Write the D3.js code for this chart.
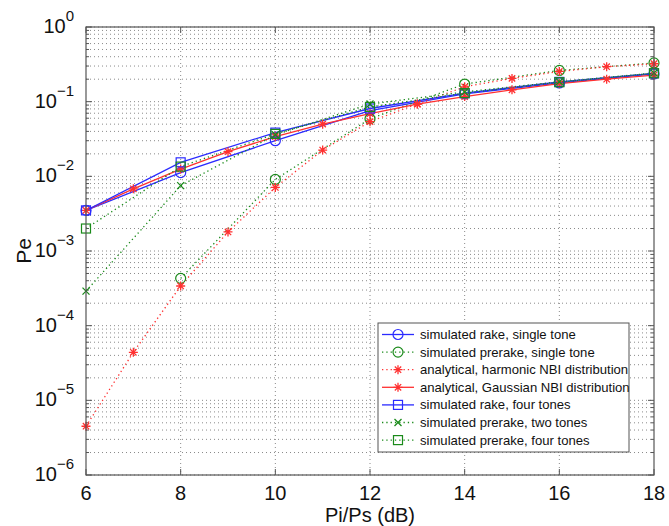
<!DOCTYPE html>
<html><head><meta charset="utf-8">
<script src="https://cdn.jsdelivr.net/npm/d3@7"></script>
<style>body{margin:0;background:#fff;} svg{display:block;font-family:"Liberation Sans",Arial,sans-serif;}</style>
</head><body>
<svg id="c" width="669" height="526"></svg>
<script>
const xSim = [6, 8, 10, 12, 14, 16, 18];
const xPreSingle = [8, 10, 12, 14, 16, 18];
const xAna = [6, 7, 8, 9, 10, 11, 12, 13, 14, 15, 16, 17, 18];
const rakeSingle = [3.5e-3, 1.12e-2, 3.0e-2, 7.6e-2, 1.27e-1, 1.78e-1, 2.35e-1];
const prerakeSingle = [4.3e-4, 9.1e-3, 5.9e-2, 1.72e-1, 2.62e-1, 3.3e-1];
const harmonic = [4.5e-6, 4.4e-5, 3.4e-4, 1.8e-3, 7.1e-3, 2.25e-2, 5.4e-2, 9.3e-2, 1.58e-1, 2.05e-1, 2.54e-1, 2.94e-1, 3.22e-1];
const gaussian = [3.5e-3, 6.8e-3, 1.25e-2, 2.14e-2, 3.4e-2, 5.0e-2, 6.9e-2, 9.3e-2, 1.17e-1, 1.44e-1, 1.74e-1, 2.0e-1, 2.27e-1];
const rakeFour = [3.5e-3, 1.54e-2, 3.85e-2, 8.1e-2, 1.3e-1, 1.84e-1, 2.4e-1];
const prerakeTwo = [2.9e-4, 7.5e-3, 3.6e-2, 9.3e-2, 1.35e-1, 1.85e-1, 2.42e-1];
const prerakeFour = [2.0e-3, 1.35e-2, 3.7e-2, 8.5e-2, 1.3e-1, 1.82e-1, 2.4e-1];
const xTicks = [6, 8, 10, 12, 14, 16, 18];
const yExps = [0, -1, -2, -3, -4, -5, -6];
const legendLabels = ["simulated rake, single tone", "simulated prerake, single tone",
  "analytical, harmonic NBI distribution", "analytical, Gaussian NBI distribution",
  "simulated rake, four tones", "simulated prerake, two tones", "simulated prerake, four tones"];
const xLabel = "Pi/Ps (dB)", yLabel = "Pe";

const BLUE = "#2b2bff", RED = "#ff3030", GREEN = "#1a8a1a";
const series = [
  {xs: xSim, ys: rakeSingle, color: BLUE, dash: null, marker: "circle"},
  {xs: xPreSingle, ys: prerakeSingle, color: GREEN, dash: "1.3,3", marker: "circle"},
  {xs: xAna, ys: harmonic, color: RED, dash: "1.3,3", marker: "star"},
  {xs: xAna, ys: gaussian, color: RED, dash: null, marker: "star"},
  {xs: xSim, ys: rakeFour, color: BLUE, dash: null, marker: "square"},
  {xs: xSim, ys: prerakeTwo, color: GREEN, dash: "1.3,3", marker: "x"},
  {xs: xSim, ys: prerakeFour, color: GREEN, dash: "1.3,3", marker: "square"}
];

const L = 86, R = 654, T = 27, B = 475;
const x = d3.scaleLinear().domain([6, 18]).range([L, R]);
const y = d3.scaleLog().domain([1e-6, 1]).range([B, T]);
const svg = d3.select("#c");

svg.append("defs").append("clipPath").attr("id", "clip")
  .append("rect").attr("x", L).attr("y", T).attr("width", R - L).attr("height", B - T);

// grid
const g = svg.append("g");
const minors = [];
for (let e = -6; e < 0; e++) for (let m = 1; m < 10; m++) minors.push(m * Math.pow(10, e));
minors.push(1);
g.selectAll(".hg").data(minors).join("line")
  .attr("x1", L).attr("x2", R).attr("y1", d => y(d)).attr("y2", d => y(d))
  .attr("stroke", "#8a8a8a").attr("stroke-width", 1).attr("stroke-dasharray", "1,3");
g.selectAll(".vg").data(xTicks.slice(1, -1)).join("line")
  .attr("y1", T).attr("y2", B).attr("x1", d => x(d)).attr("x2", d => x(d))
  .attr("stroke", "#8a8a8a").attr("stroke-width", 1).attr("stroke-dasharray", "1,3");

// ticks
const tk = svg.append("g").attr("stroke", "#555").attr("stroke-width", 1);
minors.forEach(v => {
  const major = Math.abs(Math.log10(v) - Math.round(Math.log10(v))) < 1e-9;
  const len = major ? 6 : 3;
  tk.append("line").attr("x1", L).attr("x2", L + len).attr("y1", y(v)).attr("y2", y(v));
  tk.append("line").attr("x1", R).attr("x2", R - len).attr("y1", y(v)).attr("y2", y(v));
});
xTicks.forEach(v => {
  tk.append("line").attr("x1", x(v)).attr("x2", x(v)).attr("y1", B).attr("y2", B - 6);
  tk.append("line").attr("x1", x(v)).attr("x2", x(v)).attr("y1", T).attr("y2", T + 6);
});

// lines
const plot = svg.append("g").attr("clip-path", "url(#clip)");
const line = d3.line().x(d => x(d[0])).y(d => y(d[1]));
series.forEach(s => {
  const pts = s.xs.map((v, i) => [v, s.ys[i]]);
  plot.append("path").attr("d", line(pts)).attr("fill", "none")
    .attr("stroke", s.color).attr("stroke-width", 1.3)
    .attr("stroke-dasharray", s.dash);
});

function drawMarker(sel, type, cx, cy, color) {
  if (type === "circle") {
    sel.append("circle").attr("cx", cx).attr("cy", cy).attr("r", 5)
      .attr("fill", "none").attr("stroke", color).attr("stroke-width", 1.2);
  } else if (type === "square") {
    sel.append("rect").attr("x", cx - 4.5).attr("y", cy - 4.5).attr("width", 9).attr("height", 9)
      .attr("fill", "none").attr("stroke", color).attr("stroke-width", 1.2);
  } else if (type === "x") {
    const r = 3.5;
    sel.append("path").attr("d", `M${cx - r},${cy - r}L${cx + r},${cy + r}M${cx - r},${cy + r}L${cx + r},${cy - r}`)
      .attr("stroke", color).attr("stroke-width", 1.3);
  } else if (type === "star") {
    const r = 4.5, d = r * 0.7071;
    sel.append("path").attr("d", `M${cx - r},${cy}L${cx + r},${cy}M${cx},${cy - r}L${cx},${cy + r}M${cx - d},${cy - d}L${cx + d},${cy + d}M${cx - d},${cy + d}L${cx + d},${cy - d}`)
      .attr("stroke", color).attr("stroke-width", 1.3);
  }
}
const mk = svg.append("g");
series.forEach(s => {
  s.xs.forEach((v, i) => drawMarker(mk, s.marker, x(v), y(s.ys[i]), s.color));
});

// frame
svg.append("rect").attr("x", L).attr("y", T).attr("width", R - L).attr("height", B - T)
  .attr("fill", "none").attr("stroke", "#555").attr("stroke-width", 1.2);

// tick labels
xTicks.forEach(v => {
  svg.append("text").attr("x", x(v)).attr("y", 500).attr("text-anchor", "middle")
    .attr("font-size", 20).attr("fill", "#111").text(v);
});
yExps.forEach(e => {
  const t = svg.append("text").attr("x", 74).attr("y", y(Math.pow(10, e)) + 6)
    .attr("text-anchor", "end").attr("font-size", 20).attr("fill", "#111");
  t.append("tspan").text("10");
  t.append("tspan").attr("dy", -12).attr("font-size", 15).text(e === 0 ? "0" : "\u2212" + Math.abs(e));
});
svg.append("text").attr("x", (L + R) / 2).attr("y", 522).attr("text-anchor", "middle")
  .attr("font-size", 20).attr("fill", "#111").text(xLabel);
svg.append("text").attr("transform", `translate(31,${(T + B) / 2}) rotate(-90)`)
  .attr("text-anchor", "middle").attr("font-size", 21).attr("fill", "#111").text(yLabel);

// legend
const lg = svg.append("g");
const LX = 378, LY = 323, LW = 251, LH = 129;
lg.append("rect").attr("x", LX).attr("y", LY).attr("width", LW).attr("height", LH)
  .attr("fill", "#fff").attr("stroke", "#555").attr("stroke-width", 1);
series.forEach((s, i) => {
  const cy = 334.5 + i * 17.6;
  lg.append("line").attr("x1", LX + 4).attr("x2", LX + 36).attr("y1", cy).attr("y2", cy)
    .attr("stroke", s.color).attr("stroke-width", 1.3).attr("stroke-dasharray", s.dash);
  drawMarker(lg, s.marker, LX + 20, cy, s.color);
  lg.append("text").attr("x", LX + 42).attr("y", cy + 4.5).attr("font-size", 13.1)
    .attr("fill", "#111").text(legendLabels[i]);
});
</script>
</body></html>
